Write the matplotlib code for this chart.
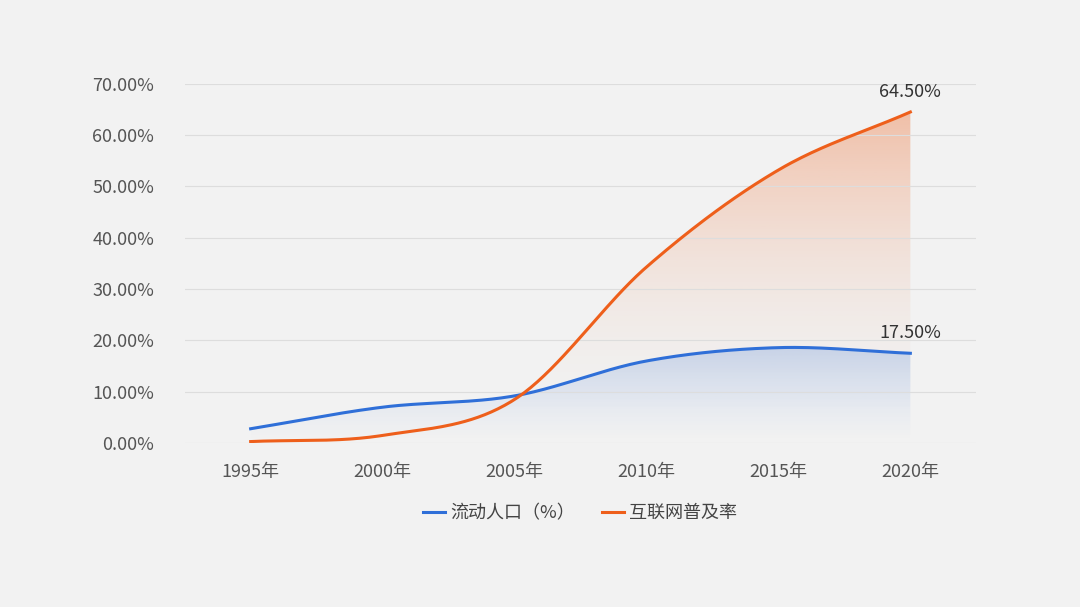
import numpy as np
import matplotlib
matplotlib.use("Agg")
import matplotlib.pyplot as plt
from matplotlib.colors import to_rgb
from matplotlib.patches import PathPatch
from matplotlib.path import Path

plt.rcParams['font.family'] = ['Noto Sans CJK SC', 'DejaVu Sans']

years = ["1995年", "2000年", "2005年", "2010年", "2015年", "2020年"]
liudong = [2.8, 7.0, 9.2, 16.0, 18.6, 17.5]
internet = [0.3, 1.5, 8.5, 34.3, 53.2, 64.5]

def smooth(y, n=40):
    y = np.asarray(y, float)
    x = np.arange(len(y))
    xs, ys = [], []
    p = np.concatenate([[2*y[0]-y[1]], y, [2*y[-1]-y[-2]]])
    for i in range(len(y)-1):
        t = np.linspace(0, 1, n, endpoint=False)
        p0, p1, p2, p3 = p[i], p[i+1], p[i+2], p[i+3]
        yy = 0.5*((2*p1) + (-p0+p2)*t + (2*p0-5*p1+4*p2-p3)*t**2 + (-p0+3*p1-3*p2+p3)*t**3)
        xs.append(x[i]+t); ys.append(yy)
    xs.append([x[-1]]); ys.append([y[-1]])
    return np.concatenate(xs), np.concatenate(ys)

fig = plt.figure(figsize=(10.8, 6.07), dpi=100, facecolor='#f2f2f2')
ax = fig.add_axes([0.171, 0.270, 0.733, 0.592])
ax.set_facecolor('#f2f2f2')
ax.set_xlim(-0.5, 5.5)
ax.set_ylim(0, 70)

def grad_fill(xs, ys, color, ymax, alpha_top, power, z):
    c = to_rgb(color)
    img = np.zeros((256, 1, 4))
    img[:, 0, :3] = c
    img[:, 0, 3] = alpha_top * np.linspace(0, 1, 256) ** power
    im = ax.imshow(img, extent=[xs.min(), xs.max(), 0, ymax], origin='lower',
                   aspect='auto', zorder=z)
    verts = np.vstack([np.column_stack([xs, ys]), [[xs[-1], 0], [xs[0], 0]]])
    patch = PathPatch(Path(verts), transform=ax.transData, facecolor='none', edgecolor='none')
    ax.add_patch(patch)
    im.set_clip_path(patch)

blue, orange = '#2f6fd8', '#ee5f1b'
xo, yo = smooth(internet)
xb, yb = smooth(liudong)
grad_fill(xo, yo, orange, 64.5, 0.35, 2.0, 1)
grad_fill(xb, yb, blue, 19, 0.22, 1.3, 1.5)
ax.plot(xb, yb, color=blue, lw=2.2, zorder=3, label='流动人口（%）')
ax.plot(xo, yo, color=orange, lw=2.2, zorder=3, label='互联网普及率')

ax.text(5, 64.5 + 2.2, "64.50%", ha='center', va='bottom', fontsize=13, color='#333333')
ax.text(5, 17.5 + 2.2, "17.50%", ha='center', va='bottom', fontsize=13, color='#333333')

ax.set_yticks(np.arange(0, 71, 10))
ax.set_yticklabels([f"{v:.2f}%" for v in range(0, 71, 10)], fontsize=13, color='#555555')
ax.set_xticks(range(len(years)))
ax.set_xticklabels(years, fontsize=13, color='#555555')
ax.tick_params(length=0, pad=14)
ax.tick_params(axis='y', pad=22)
ax.grid(axis='y', color='#dddddd', lw=0.8, zorder=0)
for s in ax.spines.values():
    s.set_visible(False)
ax.legend(loc='upper center', bbox_to_anchor=(0.5, -0.125), ncol=2, frameon=False,
          fontsize=13, handlelength=1.2, handletextpad=0.3, columnspacing=1.5,
          labelcolor='#444444')
fig.savefig('out.png', dpi=100, facecolor='#f2f2f2')
